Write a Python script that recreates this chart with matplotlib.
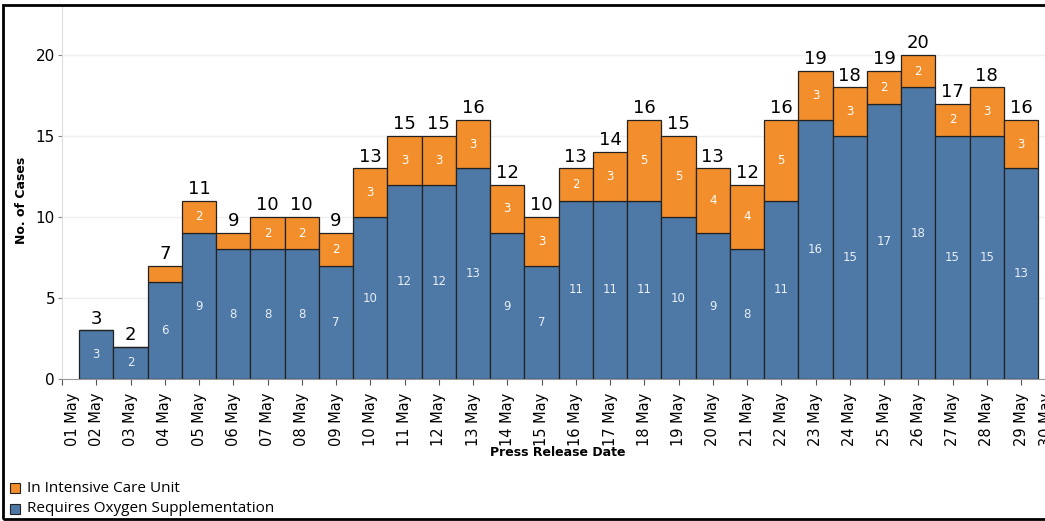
import matplotlib.pyplot as plt
from matplotlib.patches import Rectangle
import matplotlib.transforms as mtransforms

days = list(range(1, 31))
day_labels = ["%02d May" % d for d in days]
# values per day, 01 May .. 29 May
oxygen = [0, 3, 2, 6, 9, 8, 8, 8, 7, 10, 12, 12, 13, 9, 7, 11, 11, 11, 10, 9, 8, 11, 16, 15, 17, 18, 15, 15, 13]
icu = [0, 0, 0, 1, 2, 1, 2, 2, 2, 3, 3, 3, 3, 3, 3, 2, 3, 5, 5, 4, 4, 5, 3, 3, 2, 2, 2, 3, 3]
bar_days = days[:len(oxygen)]

blue = "#4e79a7"
orange = "#f28e2b"

W, H = 1045, 521
fig = plt.figure(figsize=(W / 100, H / 100), dpi=100)
ax = fig.add_axes([62 / W, (H - 379) / H, (W - 62) / W, (379 - 5) / H])

px_per_unit = 16.2
ax.set_ylim(0, (379 - 5) / px_per_unit)
ax.set_xlim(1, 29.7)

# stacked bars, skip 01 May (no cases)
for d, o, i in zip(bar_days, oxygen, icu):
    if o + i == 0:
        continue
    ax.bar(d, o, width=1, color=blue, edgecolor="#222222", linewidth=0.9, zorder=3)
    ax.bar(d, i, bottom=o, width=1, color=orange, edgecolor="#222222", linewidth=0.9, zorder=3)
    ax.text(d, o / 2, str(o), ha="center", va="center", color="#e8eef5", fontsize=8.5, zorder=4)
    if i > 1:
        ax.text(d, o + i / 2, str(i), ha="center", va="center", color="white", fontsize=8.5, zorder=4)
    ax.annotate(str(o + i), (d, o + i), xytext=(0, 2), textcoords="offset points",
                ha="center", va="bottom", fontsize=13, color="black", zorder=4)

ax.set_yticks([0, 5, 10, 15, 20])
ax.yaxis.grid(True, color="#efefef", linewidth=1, zorder=0)
ax.tick_params(axis="y", labelsize=11, length=3, color="#888888", pad=2)
ax.set_xticks(days[:29])
ax.set_xticklabels(day_labels[:29], rotation=90, fontsize=10.5)
ax.tick_params(axis="x", length=4, color="#555555", pad=6)
# Tableau pushes the first label a bit to the right
lbl0 = ax.get_xticklabels()[0]
lbl0.set_transform(lbl0.get_transform() + mtransforms.ScaledTranslation(11 / 100, 0, fig.dpi_scale_trans))
# last label is squeezed against the right edge and cut off there
ax.annotate(day_labels[29], (30, 0), xycoords=("data", "axes fraction"), xytext=(-6.5, -10),
            textcoords="offset points", rotation=90, ha="center", va="top", fontsize=10.5,
            annotation_clip=False)

for s in ["top", "right"]:
    ax.spines[s].set_visible(False)
ax.spines["left"].set_color("#dddddd")
ax.spines["bottom"].set_color("#999999")

fig.text(22 / W, (H - 200) / H, "No. of Cases", rotation=90, ha="center", va="center",
         fontsize=9, fontweight="bold")
fig.text(558 / W, (H - 453) / H, "Press Release Date", ha="center", va="center",
         fontsize=9, fontweight="bold")

# legend
legend_items = [("In Intensive Care Unit", orange, 488), ("Requires Oxygen Supplementation", blue, 509)]
for name, col, yc in legend_items:
    fig.patches.append(Rectangle((10 / W, (H - yc - 5) / H), 10 / W, 10 / H, transform=fig.transFigure,
                                 facecolor=col, edgecolor="#222222", linewidth=0.8))
    fig.text(27 / W, (H - yc) / H, name, ha="left", va="center", fontsize=11, family="Open Sans")

# outer frame
fig.patches.append(Rectangle((3 / W, 2 / H), 1.1, (H - 7) / H, transform=fig.transFigure,
                             fill=False, edgecolor="black", linewidth=2, clip_on=False))

fig.savefig("out.png", dpi=100)
